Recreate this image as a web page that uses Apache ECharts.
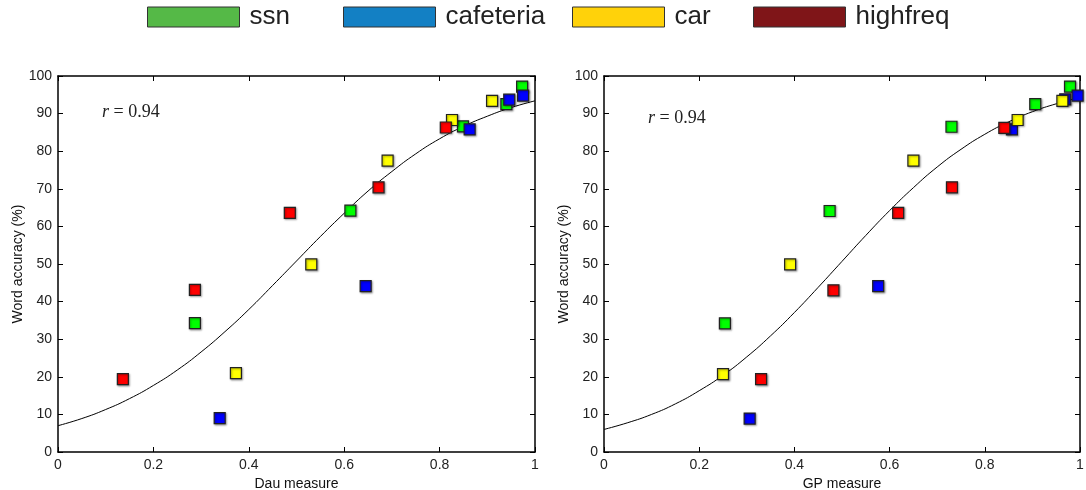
<!DOCTYPE html>
<html><head><meta charset="utf-8">
<script src="https://cdn.jsdelivr.net/npm/echarts@6/dist/echarts.min.js"></script>
<style>html,body{margin:0;padding:0;background:#fff}#c{width:1086px;height:490px}</style>
</head><body><div id="c"></div>
<script>
// ---- data ----
const groups = ['ssn', 'cafeteria', 'car', 'highfreq'];
const xTicks = [0, 0.2, 0.4, 0.6, 0.8, 1];
const yTicks = [0, 10, 20, 30, 40, 50, 60, 70, 80, 90, 100];
// Dau measure (left panel)
const dauSsn = [[0.287, 34.3], [0.613, 64.2], [0.849, 86.6], [0.940, 92.5], [0.973, 97.2]];
const dauCafeteria = [[0.339, 9.0], [0.645, 44.1], [0.863, 85.8], [0.946, 93.7], [0.975, 94.8]];
const dauCar = [[0.373, 21.0], [0.531, 49.9], [0.691, 77.5], [0.826, 88.3], [0.910, 93.4]];
const dauHighfreq = [[0.136, 19.4], [0.287, 43.1], [0.486, 63.6], [0.672, 70.4], [0.813, 86.3]];
const dauFit = [[0, 7.0], [0.05, 8.9], [0.1, 11.3], [0.15, 14.2], [0.2, 17.7], [0.25, 21.8], [0.3, 26.6], [0.35, 32.0],
  [0.4, 37.9], [0.45, 44.3], [0.5, 50.8], [0.55, 57.3], [0.6, 63.5], [0.65, 69.4], [0.7, 74.6], [0.75, 79.3],
  [0.8, 83.3], [0.85, 86.6], [0.9, 89.3], [0.95, 91.6], [1.0, 93.4]];
// GP measure (right panel)
const gpSsn = [[0.254, 34.2], [0.474, 64.1], [0.730, 86.5], [0.906, 92.5], [0.979, 97.2]];
const gpCafeteria = [[0.306, 8.9], [0.576, 44.1], [0.857, 85.8], [0.969, 93.8], [0.995, 94.8]];
const gpCar = [[0.250, 20.7], [0.391, 49.9], [0.650, 77.5], [0.869, 88.3], [0.963, 93.4]];
const gpHighfreq = [[0.330, 19.4], [0.482, 43.0], [0.618, 63.6], [0.731, 70.4], [0.841, 86.2]];
const gpFit = [[0, 6.0], [0.05, 7.8], [0.1, 10.0], [0.15, 12.8], [0.2, 16.3], [0.25, 20.4], [0.3, 25.3], [0.35, 30.9],
  [0.4, 37.1], [0.45, 43.8], [0.5, 50.7], [0.55, 57.6], [0.6, 64.2], [0.65, 70.3], [0.7, 75.8], [0.75, 80.5],
  [0.8, 84.5], [0.85, 87.8], [0.9, 90.5], [0.95, 92.6], [1.0, 94.3]];
const rText = 'r = 0.94';

// ---- styles ----
const markerColors = {ssn: '#00ff00', cafeteria: '#0000ff', car: '#ffff00', highfreq: '#ff0000'};
const legendColors = {ssn: '#55b947', cafeteria: '#1380c4', car: '#ffd20a', highfreq: '#7f1518'};
const legendLeft = {ssn: 147, cafeteria: 343, car: 572, highfreq: 753};
const FONT = 'Liberation Sans';

const chart = echarts.init(document.getElementById('c'), null, {renderer: 'canvas'});

const grids = [
  {left: 58, top: 76, width: 477, height: 376, outerBoundsMode: 'none', containLabel: false},
  {left: 604, top: 76, width: 476, height: 376, outerBoundsMode: 'none', containLabel: false}
];
function xAx(gi, name, pos) {
  const main = pos === 'bottom';
  return {
    type: 'value', gridIndex: gi, position: pos, min: 0, max: 1, interval: 0.2,
    name: main ? name : '', nameLocation: 'middle', nameGap: 18,
    nameTextStyle: {fontFamily: FONT, fontSize: 14, color: '#111'},
    axisLine: {show: true, onZero: false, lineStyle: {color: '#000', width: 1.5}},
    axisTick: {show: true, inside: true, length: 5, lineStyle: {color: '#000', width: 1}},
    axisLabel: {show: main, fontFamily: FONT, fontSize: 14, color: '#222', margin: 6},
    splitLine: {show: false}
  };
}
function yAx(gi, pos) {
  const main = pos === 'left';
  return {
    type: 'value', gridIndex: gi, position: pos, min: 0, max: 100, interval: 10,
    name: main ? 'Word accuracy (%)' : '', nameLocation: 'middle', nameGap: 32,
    nameTextStyle: {fontFamily: FONT, fontSize: 14, color: '#111'},
    axisLine: {show: true, onZero: false, lineStyle: {color: '#000', width: 1.5}},
    axisTick: {show: true, inside: true, length: 5, lineStyle: {color: '#000', width: 1}},
    axisLabel: {show: main, fontFamily: FONT, fontSize: 14, color: '#222', margin: 6},
    splitLine: {show: false}
  };
}

const panels = [
  {sets: [dauSsn, dauCafeteria, dauCar, dauHighfreq], fit: dauFit},
  {sets: [gpSsn, gpCafeteria, gpCar, gpHighfreq], fit: gpFit}
];
const series = [];
panels.forEach((p, gi) => {
  series.push({
    type: 'line', xAxisIndex: gi * 2, yAxisIndex: gi * 2, data: p.fit, smooth: true,
    showSymbol: false, symbol: 'none', lineStyle: {color: '#000', width: 1}, z: 1, silent: true
  });
  groups.forEach((g, k) => {
    series.push({
      name: g, type: 'scatter', xAxisIndex: gi * 2, yAxisIndex: gi * 2, data: p.sets[k],
      symbol: 'rect', symbolSize: 11, z: 3,
      itemStyle: {color: markerColors[g], borderColor: '#222', borderWidth: 1.2, opacity: 1,
        shadowColor: 'rgba(0,0,0,0.35)', shadowBlur: 2, shadowOffsetX: 1, shadowOffsetY: 1}
    });
  });
});

const legends = groups.map(g => ({
  left: legendLeft[g], top: 0, padding: 0, itemWidth: 92, itemHeight: 20, icon: 'rect',
  textStyle: {fontFamily: FONT, fontSize: 26, lineHeight: 30, color: '#222', padding: [0, 0, 4, 5]},
  data: [{name: g, itemStyle: {color: legendColors[g], borderColor: '#333', borderWidth: 1}}]
}));

chart.setOption({
  animation: false,
  backgroundColor: '#fff',
  grid: grids,
  legend: legends,
  xAxis: [xAx(0, 'Dau measure', 'bottom'), xAx(0, '', 'top'), xAx(1, 'GP measure', 'bottom'), xAx(1, '', 'top')],
  yAxis: [yAx(0, 'left'), yAx(0, 'right'), yAx(1, 'left'), yAx(1, 'right')],
  series: series,
  graphic: [
    {type: 'text', left: 102, top: 103, style: {
      text: '{i|r} = 0.94', rich: {i: {fontFamily: 'Liberation Serif', fontStyle: 'italic', fontSize: 18, fill: '#222'}},
      fontFamily: 'Liberation Serif', fontSize: 18, fill: '#222'}},
    {type: 'text', left: 648, top: 109, style: {
      text: '{i|r} = 0.94', rich: {i: {fontFamily: 'Liberation Serif', fontStyle: 'italic', fontSize: 18, fill: '#222'}},
      fontFamily: 'Liberation Serif', fontSize: 18, fill: '#222'}}
  ]
});
</script>
</body></html>
